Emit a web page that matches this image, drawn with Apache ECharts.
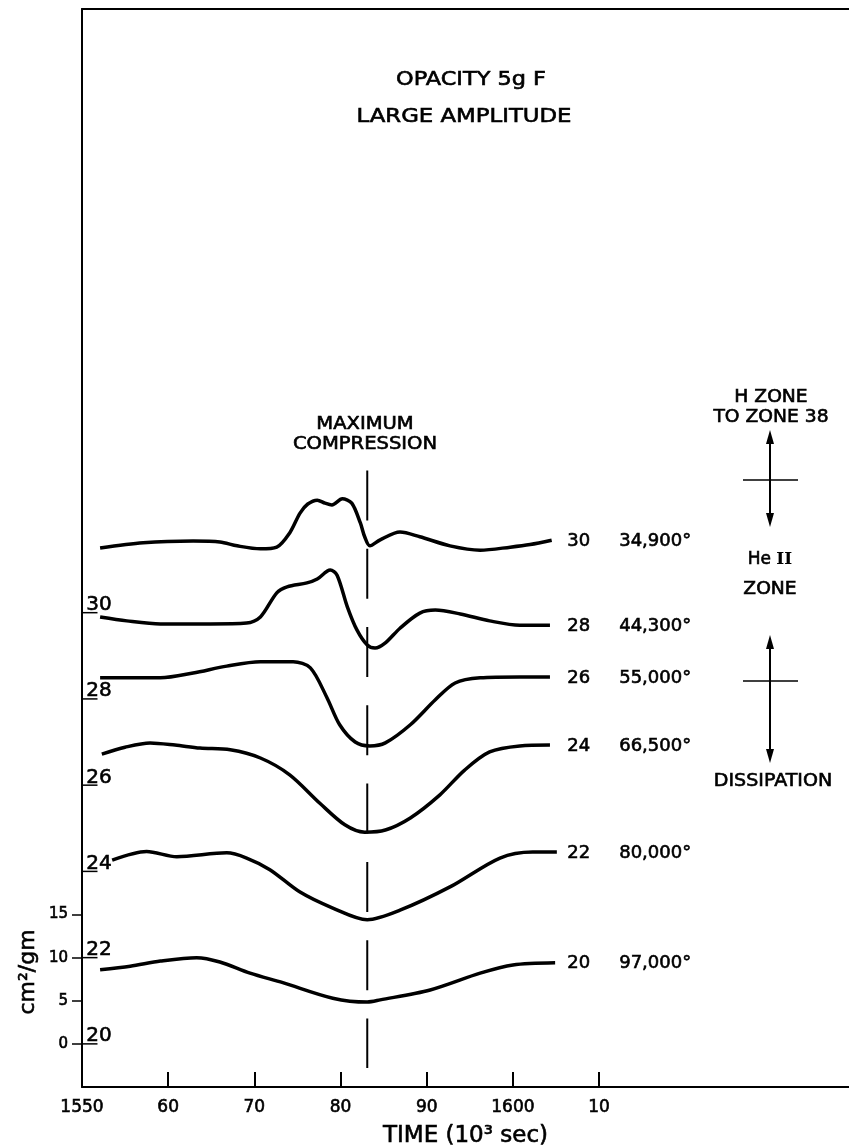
<!DOCTYPE html>
<html><head><meta charset="utf-8">
<script src="https://cdn.jsdelivr.net/npm/echarts@6/dist/echarts.min.js"></script>
<style>html,body{margin:0;padding:0;background:#fff}#c{width:849px;height:1148px}</style>
</head><body><div id="c"></div>
<script>
// ---- data ----
const zones = ['20','22','24','26','28','30'];
const temps = ['97,000°','80,000°','66,500°','55,000°','44,300°','34,900°'];
const offsets = [0,10,20,30,40,50];   // vertical offset of each zone's zero (cm²/gm)

const time20 = [1552.1,1555.6,1559.1,1563.3,1566.0,1569.5,1573.3,1579.1,1583.1,1584.6,1590.4,1596.2,1600.0,1604.9];
const opac20 = [8.6,9.0,9.6,10.0,9.5,8.2,7.1,5.3,4.85,5.1,6.25,8.2,9.15,9.4];

const time22 = [1553.5,1557.5,1561.0,1566.8,1569.1,1571.8,1575.3,1579.1,1583.1,1586.9,1592.7,1598.5,1602.3,1605.1];
const opac22 = [11.3,12.3,11.7,12.15,11.55,10.2,7.6,5.75,4.4,5.5,8.2,11.55,12.25,12.25];

const time24 = [1552.3,1555.0,1557.9,1560.8,1563.7,1567.2,1570.7,1574.1,1577.6,1580.5,1582.8,1585.2,1588.1,1591.5,1594.4,1597.3,1600.8,1604.3];
const opac24 = [13.6,14.4,14.9,14.65,14.3,14.1,13.15,11.2,7.9,5.4,4.55,4.8,6.2,8.85,11.75,13.85,14.55,14.65];

const time26 = [1552.1,1559.1,1562.9,1566.8,1570.7,1574.5,1576.5,1578.4,1579.9,1581.7,1583.4,1585.2,1588.1,1591.0,1593.3,1596.2,1600.8,1604.3];
const opac26 = [12.45,12.45,13.0,13.8,14.3,14.3,13.6,10.2,7.0,5.0,4.55,4.9,7.0,9.9,11.85,12.45,12.55,12.55];

const time28 = [1552.1,1555.2,1559.1,1564.9,1569.1,1570.7,1572.6,1573.8,1576.1,1577.3,1578.8,1579.6,1580.8,1581.9,1583.1,1584.0,1585.2,1586.9,1589.2,1591.0,1593.9,1597.3,1600.8,1604.3];
const opac28 = [9.5,9.05,8.7,8.7,8.8,9.5,12.3,13.0,13.45,13.9,14.95,14.35,10.65,8.0,6.25,5.9,6.5,8.2,9.95,10.3,9.85,9.05,8.55,8.55];

const time30 = [1552.1,1557.1,1562.9,1566.0,1568.0,1570.7,1572.6,1574.1,1575.3,1576.2,1577.3,1578.2,1579.0,1580.2,1581.3,1582.3,1582.8,1583.4,1584.6,1586.9,1589.2,1592.7,1596.2,1599.7,1602.0,1604.5];
const opac30 = [7.5,8.1,8.3,8.2,7.75,7.4,7.6,9.25,11.55,12.6,13.05,12.7,12.5,13.2,12.7,10.4,8.8,7.75,8.45,9.35,8.8,7.75,7.25,7.6,7.9,8.4];

const times = [time20,time22,time24,time26,time28,time30];
const opacs = [opac20,opac22,opac24,opac26,opac28,opac30];

const labelTime = 1606.3;            // where the right-hand zone labels start
const maxCompTime = 1583.1;
const maxCompRange = [66.5, -2.8];

const xTickValues = [1550,1560,1570,1580,1590,1600,1610];
const xTickLabels = ['1550','60','70','80','90','1600','10'];
const yTickValues = [0,5,10,15];

// ---- chart ----
const FONT = 'DejaVu Sans';
const INK = {color:'#000', textBorderColor:'#000', textBorderWidth:0.6};
const chart = echarts.init(document.getElementById('c'));

const zoneSeries = zones.map((z,i)=>({
  type:'line', name:'Zone '+z,
  data: times[i].map((t,j)=>[t, opacs[i][j] + offsets[i]]),
  smooth:0.3, symbol:'none', showSymbol:false, silent:true,
  lineStyle:{color:'#000', width:3.5}
}));

const endLabelSeries = {
  type:'scatter', clip:false, silent:true, symbolSize:0,
  itemStyle:{color:'#000', opacity:1},
  data: zones.map((z,i)=>({
    value:[labelTime, opacs[i][opacs[i].length-1] + offsets[i]],
    label:{formatter:'{z|'+z+'}{t|'+temps[i]+'}'}
  })),
  label:{show:true, position:'right', distance:0, offset:[0,1], opacity:1,
    rich:{z:Object.assign({width:52,fontSize:18,fontFamily:FONT},INK),
          t:Object.assign({fontSize:18,fontFamily:FONT},INK)}}
};

const offsetLabelSeries = {
  type:'scatter', clip:false, silent:true, z:5,
  data: offsets.map((o,i)=>({value:[1550,o], label:{formatter:zones[i]}})),
  symbol:'rect', symbolSize:[15,1.5], symbolOffset:[8,0],
  itemStyle:{color:'#000', opacity:1},
  label:Object.assign({show:true, position:'top', distance:1, offset:[9,4], fontSize:20, fontFamily:FONT, opacity:1}, INK)
};

const maxCompSeries = {
  type:'line', silent:true, symbol:'none',
  data: maxCompRange.map(v=>[maxCompTime, v]),
  lineStyle:{color:'#000', width:2, type:[50,28.3]}
};

function arrow(xc, top, bot, crossY){
  const hl=14, hw=4;
  return [
    {type:'line', shape:{x1:xc,y1:top+hl-2,x2:xc,y2:bot-hl+2}, style:{stroke:'#000',lineWidth:2}},
    {type:'polygon', shape:{points:[[xc,top],[xc-hw,top+hl],[xc+hw,top+hl]]}, style:{fill:'#000'}},
    {type:'polygon', shape:{points:[[xc,bot],[xc-hw,bot-hl],[xc+hw,bot-hl]]}, style:{fill:'#000'}},
    {type:'line', shape:{x1:743,y1:crossY,x2:798,y2:crossY}, style:{stroke:'#000',lineWidth:1.5}}
  ];
}
function txt(x,y,text,size,sx){
  return {type:'text', x:x, y:y, scaleX:sx||1,
    style:{text:text, fontSize:size, fontFamily:FONT, fill:'#000', stroke:'#000', lineWidth:0.6,
      align:'center', verticalAlign:'middle'}};
}

chart.setOption({
  animation:false,
  backgroundColor:'#fff',
  grid:{left:82, right:0, top:9, bottom:61, containLabel:false, outerBoundsMode:'none'},
  xAxis:[{
    type:'value', min:1550, max:1639, interval:10, position:'bottom',
    splitLine:{show:false},
    axisLine:{onZero:false, lineStyle:{color:'#000', width:2}},
    axisTick:{inside:true, length:15, customValues:xTickValues.slice(1), lineStyle:{color:'#000', width:2}},
    axisLabel:Object.assign({customValues:xTickValues, margin:12, fontSize:17, fontFamily:FONT,
      formatter:v=>{const k=xTickValues.indexOf(v); return k>=0?xTickLabels[k]:'';}}, INK),
    name:'TIME (10³ sec)', nameLocation:'middle', nameGap:38,
    nameTextStyle:Object.assign({fontSize:23, fontFamily:FONT}, INK)
  },{
    type:'value', min:1550, max:1639, position:'top',
    splitLine:{show:false}, axisTick:{show:false}, axisLabel:{show:false},
    axisLine:{show:true, onZero:false, lineStyle:{color:'#000', width:2}}
  }],
  yAxis:{
    type:'value', min:-5, max:120, interval:5,
    splitLine:{show:false},
    axisLine:{show:true, onZero:false, lineStyle:{color:'#000', width:2}},
    axisTick:{show:true, inside:false, length:10, customValues:yTickValues, lineStyle:{color:'#000', width:1.5}},
    axisLabel:Object.assign({customValues:yTickValues, margin:14, fontSize:15, fontFamily:FONT}, INK)
  },
  series:[...zoneSeries, endLabelSeries, offsetLabelSeries, maxCompSeries],
  graphic:[
    txt(471,80,'OPACITY 5g F',19,1.18),
    txt(464,117,'LARGE AMPLITUDE',19,1.2),
    txt(365,425,'MAXIMUM',17,1.15),
    txt(365,445,'COMPRESSION',17,1.15),
    txt(771,398,'H ZONE',17,1.1),
    txt(771,418,'TO ZONE 38',17,1.1),
    {type:'text', x:770, y:560, style:{text:'{a|He }{b|II}', align:'center', verticalAlign:'middle',
      rich:{a:{fontSize:17,fontFamily:FONT,fill:'#000',stroke:'#000',lineWidth:0.6}, b:{fontSize:17,fontFamily:'DejaVu Serif',fontWeight:'bold',fill:'#000'}}}},
    txt(770,590,'ZONE',17,1.1),
    txt(773,782,'DISSIPATION',17,1.12),
    {type:'text', x:28, y:972, rotation:Math.PI/2,
      style:{text:'cm²/gm', fontSize:22, fontFamily:FONT, fill:'#000', stroke:'#000', lineWidth:0.6, align:'center', verticalAlign:'middle'}},
    ...arrow(770,430,527,480),
    ...arrow(770,635,763,681)
  ]
});
</script></body></html>
